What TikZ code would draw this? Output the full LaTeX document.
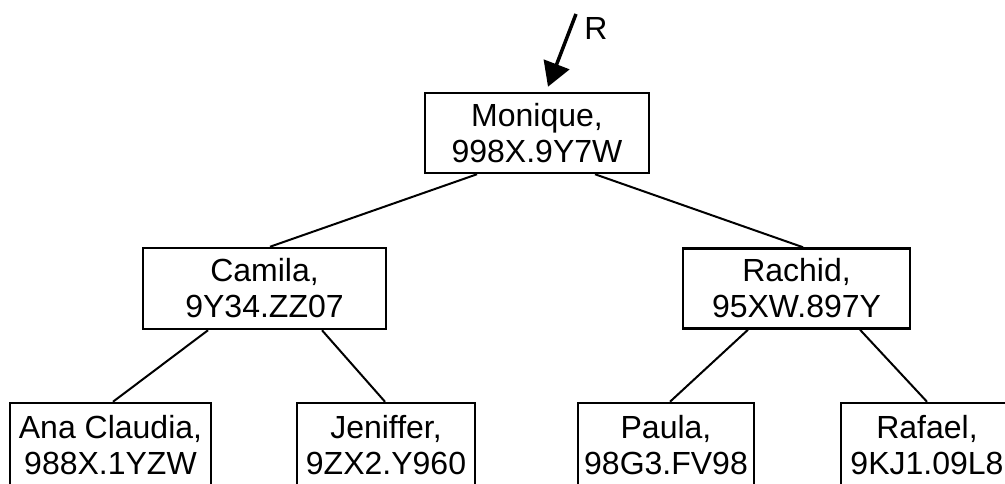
\documentclass[tikz,border=0pt]{standalone}
\usepackage{fontspec}
\setmainfont{Liberation Sans}
\usepackage{tikz}
\usetikzlibrary{arrows.meta}

\tikzset{
  namebox/.style={draw, line width=2.5pt, align=center, inner sep=0pt,
                  minimum height=80pt, font=\fontsize{32}{36}\selectfont},
  treeline/.style={line width=2pt}
}

\begin{document}
\begin{tikzpicture}[x=1pt, y=-1pt]
    \useasboundingbox (0,0) rectangle (1005,484);
    \clip (0,0) rectangle (1005,484);

    % root and pointer
    \node[namebox, minimum width=224pt] (mon) at (537,133) {Monique,\\998X.9Y7W};
    \coordinate (rin) at (576,14);
    \node[font=\fontsize{32}{36}\selectfont, inner sep=0pt] (rlab) at (596,28) {R};
    \draw[line width=3.5pt, -{Triangle[length=24pt, width=27pt]}]
      (rin) -- ([xshift=11pt, yshift=5pt]mon.north);

    % second level
    \node[namebox, minimum width=243pt, minimum height=81pt] (cam) at (264.5,288.5) {Camila,\\9Y34.ZZ07};
    \node[namebox, minimum width=227pt] (rac) at (796.5,288.5) {Rachid,\\95XW.897Y};

    % leaves
    \node[namebox, minimum width=201pt, minimum height=84pt] (ana) at (110.5,445) {Ana Claudia,\\988X.1YZW};
    \node[namebox, minimum width=178pt, minimum height=84pt] (jen) at (386,445) {Jeniffer,\\9ZX2.Y960};
    \node[namebox, minimum width=176pt, minimum height=84pt] (pau) at (666,445) {Paula,\\98G3.FV98};
    \node[namebox, minimum width=172pt, minimum height=84pt] (raf) at (927,445) {Rafael,\\9KJ1.09L8};

    \draw[treeline] ([xshift=-60pt]mon.south) -- ([xshift=5.5pt]cam.north);
    \draw[treeline] ([xshift=58pt]mon.south) -- ([xshift=6.5pt]rac.north);
    \draw[treeline] ([xshift=-56.5pt]cam.south) -- ([xshift=2.5pt]ana.north);
    \draw[treeline] ([xshift=57.5pt]cam.south) -- ([xshift=-1pt]jen.north);
    \draw[treeline] ([xshift=-48.5pt]rac.south) -- ([xshift=4pt]pau.north);
    \draw[treeline] ([xshift=63.5pt]rac.south) -- (raf.north);
  \end{tikzpicture}
\end{document}
